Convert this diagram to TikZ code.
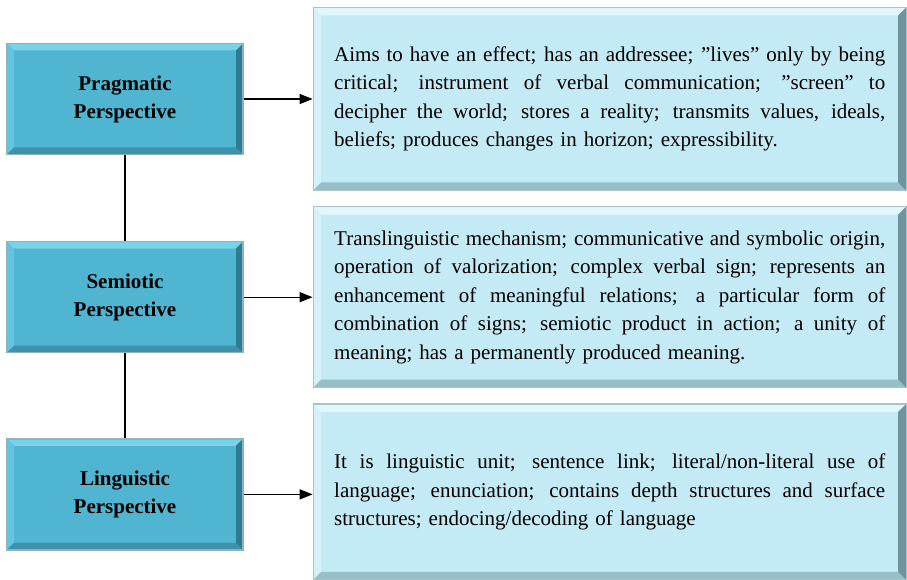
\documentclass[tikz,border=0pt]{standalone}
\usepackage{fontspec}
\setmainfont{Liberation Serif}
\usepackage{tikz}
\usetikzlibrary{positioning,arrows.meta,calc}
\definecolor{perspfill}{HTML}{4FB5D0}
\definecolor{persptop}{HTML}{78D2E8}
\definecolor{perspleft}{HTML}{62C4DE}
\definecolor{perspbot}{HTML}{3D93AB}
\definecolor{perspright}{HTML}{2E7C92}
\definecolor{perspline}{HTML}{8FB3BD}
\definecolor{descfill}{HTML}{C3EAF5}
\definecolor{desctop}{HTML}{E2F7FC}
\definecolor{descleft}{HTML}{D4F1F9}
\definecolor{descbot}{HTML}{97BFCA}
\definecolor{descright}{HTML}{6E949F}
\definecolor{descline}{HTML}{A9C3CA}
\newlength\descwd
\setlength\descwd{551pt}
\newcommand{\fullline}[1]{\leavevmode\hbox to\descwd{\spaceskip=0.25em plus 1fil\relax #1}\\}
\tikzset{
  bevel/.style n args={6}{fill=#1, path picture={
    \coordinate (bnw) at (path picture bounding box.north west);
    \coordinate (bne) at (path picture bounding box.north east);
    \coordinate (bsw) at (path picture bounding box.south west);
    \coordinate (bse) at (path picture bounding box.south east);
    \fill[#2] (bnw) -- (bne) -- ($(bne)+(-#6,-#6)$) -- ($(bnw)+(#6,-#6)$) -- cycle;
    \fill[#3] (bnw) -- ($(bnw)+(#6,-#6)$) -- ($(bsw)+(#6,#6)$) -- (bsw) -- cycle;
    \fill[#4] (bsw) -- ($(bsw)+(#6,#6)$) -- ($(bse)+(-#6,#6)$) -- (bse) -- cycle;
    \fill[#5] (bse) -- ($(bse)+(-#6,#6)$) -- ($(bne)+(-#6,-#6)$) -- (bne) -- cycle;
  }},
  perspbox/.style={bevel={perspfill}{persptop}{perspleft}{perspbot}{perspright}{7pt},
    draw=perspline,line width=1.2pt,minimum width=236pt,minimum height=111pt,
    align=center,font=\bfseries\fontsize{21}{28}\selectfont},
  descbox/.style={bevel={descfill}{desctop}{descleft}{descbot}{descright}{8pt},
    draw=descline,line width=1.2pt,minimum width=593pt,text width=\descwd,
    align=left,font=\fontsize{21}{28.5}\selectfont},
}

\begin{document}
\begin{tikzpicture}[>={Triangle[length=13pt,width=10pt]},
   arrow/.style={->,line width=1.2pt},
   link/.style={line width=1.2pt}]
  \useasboundingbox (0,0) rectangle (907pt,-580pt);
  % perspectives
  \node[perspbox] (prag) at (125pt,-99pt) {Pragmatic\\Perspective};
  \node[perspbox,below=86pt of prag] (semio) {Semiotic\\Perspective};
  \node[perspbox,below=85pt of semio] (ling) {Linguistic\\Perspective};
  % descriptions
  \node[descbox,minimum height=183pt,right=69pt of prag] (pragdesc)
    {\fullline{Aims to have an effect; has an addressee; ”lives” only by being}
     \fullline{critical; instrument of verbal communication; ”screen” to}
     \fullline{decipher the world; stores a reality; transmits values, ideals,}
     beliefs; produces changes in horizon; expressibility.};
  \node[descbox,minimum height=181pt,right=69pt of semio] (semiodesc)
    {\fullline{Translinguistic mechanism; communicative and symbolic origin,}
     \fullline{operation of valorization; complex verbal sign; represents an}
     \fullline{enhancement of meaningful relations; a particular form of}
     \fullline{combination of signs; semiotic product in action; a unity of}
     meaning; has a permanently produced meaning.};
  \node[descbox,minimum height=176pt,right=69pt of ling,yshift=2.5pt] (lingdesc)
    {\fullline{It is linguistic unit; sentence link; literal/non-literal use of}
     \fullline{language; enunciation; contains depth structures and surface}
     structures; endocing/decoding of language};
  % connectors
  \draw[link] (prag) -- (semio);
  \draw[link] (semio) -- (ling);
  \draw[arrow] (prag.east) -- (prag.east -| pragdesc.west);
  \draw[arrow] (semio.east) -- (semio.east -| semiodesc.west);
  \draw[arrow] (ling.east) -- (ling.east -| lingdesc.west);
\end{tikzpicture}
\end{document}
